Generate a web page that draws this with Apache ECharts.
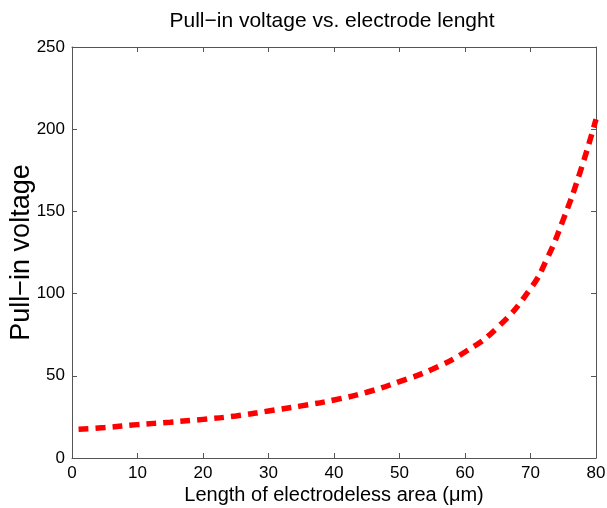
<!DOCTYPE html>
<html>
<head>
<meta charset="utf-8">
<script src="https://cdn.jsdelivr.net/npm/echarts@6/dist/echarts.min.js"></script>
<style>
  html, body { margin: 0; padding: 0; background: #fff; }
  #chart { width: 607px; height: 508px; }
</style>
</head>
<body>
<div id="chart"></div>
<script>
// electrodeless length (um) and pull-in voltage
var lengths = [1, 5, 10, 15, 20, 25, 30, 35, 40, 45, 50, 55, 60, 65, 70, 72.5, 75, 77.5, 80];
var voltages = [17.5, 18.5, 20.3, 21.8, 23.5, 25.6, 28.6, 31.7, 35.3, 40, 46.5, 54, 64.5, 79.5, 103, 121, 145, 173, 206];

var xTicks = [0, 10, 20, 30, 40, 50, 60, 70, 80];
var yTicks = [0, 50, 100, 150, 200, 250];

var font = 'Liberation Sans';
var axisColor = '#555';

var points = lengths.map(function (x, i) { return [x, voltages[i]]; });

var chart = echarts.init(document.getElementById('chart'));

function boxAxis(pos, isX, show) {
    var ax = {
        type: 'value',
        position: pos,
        min: xTicks[0],
        max: isX ? xTicks[xTicks.length - 1] : yTicks[yTicks.length - 1],
        interval: isX ? 10 : 50,
        splitLine: {show: false},
        axisLine: {show: true, onZero: false, lineStyle: {color: axisColor, width: 1}},
        axisTick: {show: true, inside: true, length: 5, lineStyle: {color: axisColor}},
        axisLabel: {show: show, color: '#000', fontSize: 17, fontFamily: font, margin: 7}
    };
    return ax;
}

var xMain = boxAxis('bottom', true, true);
xMain.name = 'Length of electrodeless area (\u03bcm)';
xMain.nameLocation = 'middle';
xMain.nameGap = 27;
xMain.nameMoveOverlap = false;
xMain.nameTextStyle = {fontSize: 20, color: '#000', fontFamily: font};

var yMain = boxAxis('left', false, true);
yMain.name = 'Pull\u2212in voltage';
yMain.nameLocation = 'middle';
yMain.nameGap = 37;
yMain.nameMoveOverlap = false;
yMain.nameTextStyle = {fontSize: 27, color: '#000', fontFamily: font};

var option = {
    animation: false,
    backgroundColor: '#fff',
    title: {
        text: 'Pull\u2212in voltage vs. electrode lenght',
        left: 327,
        textAlign: 'center',
        top: 6,
        textStyle: {fontSize: 21, fontWeight: 'normal', color: '#000', fontFamily: font}
    },
    grid: {left: 72, right: 11, top: 47, bottom: 50, containLabel: false, outerBoundsMode: 'none'},
    xAxis: [xMain, boxAxis('top', true, false)],
    yAxis: [yMain, boxAxis('right', false, false)],
    series: [{
        type: 'line',
        data: points,
        smooth: true,
        showSymbol: false,
        lineStyle: {color: '#ff0000', width: 5.5, type: [10, 7]}
    }]
};

chart.setOption(option);
</script>
</body>
</html>
